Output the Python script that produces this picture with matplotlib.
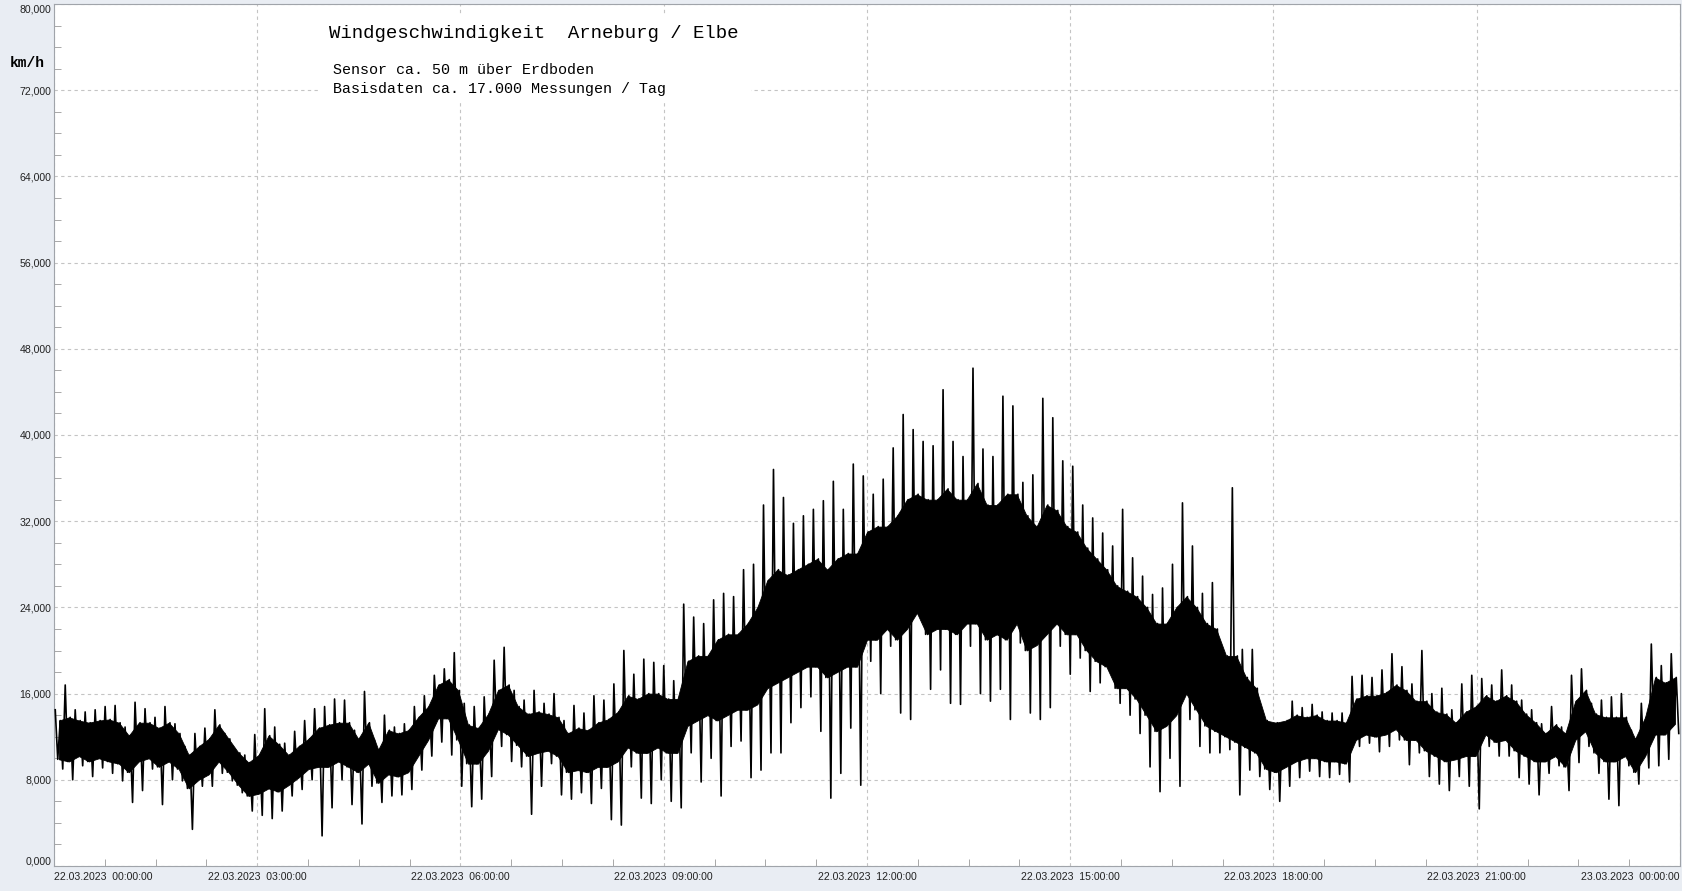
import numpy as np
import matplotlib.pyplot as plt
from matplotlib.patches import Rectangle
from matplotlib.ticker import MultipleLocator

# wind speed km/h in ~9 min bins
# hi / lo: ends of the longest strokes, ct / cb: top and bottom of the solid black core
hi = [14.5, 16.8, 14.5, 14.3, 14.5, 14.8, 14.9, 12.9, 15.2, 14.6, 13.8, 14.8, 13.2, 11.1, 12.3, 12.8, 14.5,
      12.3, 10.8, 10.3, 12.2, 14.6, 12.9, 11.4, 12.5, 13.5, 14.6, 14.8, 15.5, 15.4, 12.6, 16.2, 11.7,
      14.0, 12.9, 13.2, 14.8, 15.8, 17.7, 18.3, 19.8, 15.1, 14.8, 15.7, 19.1, 20.3, 16.3, 15.4, 16.3, 15.1,
      16.0, 13.5, 14.9, 14.2, 15.8, 15.4, 16.9, 20.0, 17.8, 19.2, 18.9, 18.6, 17.2, 24.3, 23.1, 22.5,
      24.7, 25.3, 25.0, 27.5, 28.0, 33.5, 36.8, 34.2, 31.8, 32.5, 33.1, 33.9, 35.7, 33.1, 37.3, 36.2,
      34.5, 35.9, 38.8, 41.9, 40.5, 39.4, 39.0, 44.2, 39.4, 38.0, 46.2, 38.7, 38.0, 43.6, 42.7, 35.6,
      36.3, 43.4, 41.6, 37.6, 37.1, 33.5, 32.3, 30.9, 29.7, 33.1, 28.6, 26.9, 25.2, 25.8, 28.0, 33.7,
      29.7, 25.3, 26.3, 19.4, 35.1, 20.1, 20.1, 13.1, 12.8, 13.3, 15.3, 14.7, 15.0, 14.3, 14.2, 14.2, 17.6,
      17.7, 17.5, 18.2, 19.7, 18.5, 16.9, 20.0, 16.0, 16.5, 14.5, 16.9, 17.7, 17.4, 16.8, 18.2, 16.8,
      15.4, 14.5, 13.2, 14.8, 12.9, 17.7, 18.3, 15.1, 15.4, 15.7, 16.0, 12.6, 15.1, 20.6, 18.6, 19.7]
lo = [9.0, 8.0, 9.3, 8.3, 9.1, 8.6, 7.9, 5.9, 7.0, 9.0, 5.7, 8.0, 7.9, 3.4, 7.4, 7.4, 8.6,
      7.9, 6.8, 5.1, 4.7, 4.4, 5.1, 6.5, 7.1, 8.0, 2.8, 5.4, 8.0, 5.7, 3.9, 7.4, 5.9,
      6.5, 6.6, 7.1, 8.9, 10.2, 11.5, 10.3, 7.4, 5.5, 6.2, 8.3, 11.1, 9.7, 9.2, 4.8, 7.4, 9.5,
      6.6, 6.2, 6.8, 5.8, 7.2, 4.3, 3.8, 9.2, 6.3, 5.8, 8.0, 6.0, 5.4, 10.5, 7.8, 10.0,
      6.5, 11.1, 11.6, 8.2, 8.9, 10.5, 10.5, 13.3, 14.7, 15.7, 12.5, 6.3, 8.6, 12.8, 7.5, 19.0,
      16.0, 20.4, 14.2, 13.6, 23.8, 16.4, 18.2, 15.1, 15.0, 20.4, 16.0, 15.3, 16.4, 13.6, 20.7, 14.2,
      13.6, 14.7, 20.4, 17.8, 19.3, 16.2, 17.0, 18.5, 15.1, 14.0, 12.3, 9.2, 6.9, 10.0, 7.4, 13.6,
      11.1, 10.5, 10.5, 10.8, 6.6, 8.9, 8.3, 7.1, 6.0, 7.4, 8.2, 8.8, 8.3, 8.2, 8.5, 7.8, 11.1,
      11.4, 10.6, 11.1, 11.7, 9.4, 10.5, 8.3, 7.6, 7.0, 8.3, 7.4, 5.3, 11.1, 10.2, 10.2, 8.2,
      7.6, 6.6, 8.6, 9.3, 7.0, 9.6, 11.1, 8.6, 6.2, 5.6, 9.3, 7.6, 9.1, 9.3, 9.9, 12.3]
ct = [13.5, 13.8, 13.5, 13.3, 13.5, 13.6, 13.3, 12.1, 13.3, 13.3, 12.8, 13.3, 12.3, 10.3, 11.1, 11.8, 13.1,
      11.8, 10.5, 9.6, 10.3, 12.1, 11.3, 10.3, 11.1, 11.8, 12.8, 13.1, 13.3, 13.3, 11.8, 13.3, 10.8,
      12.6, 12.3, 12.6, 13.8, 14.8, 16.8, 17.3, 16.3, 13.1, 12.8, 14.1, 16.3, 16.8, 14.8, 14.1, 14.3, 14.1,
      13.8, 12.3, 12.8, 12.6, 13.3, 13.6, 14.3, 15.8, 15.5, 16.0, 16.0, 15.5, 15.5, 19.0, 19.5, 19.5,
      21.0, 21.5, 21.5, 22.5, 24.0, 26.5, 27.5, 27.0, 27.5, 28.0, 28.5, 27.5, 28.5, 29.0, 29.0, 31.0,
      31.5, 31.5, 32.5, 34.0, 34.5, 34.0, 34.0, 35.0, 34.0, 34.0, 35.5, 33.5, 33.5, 34.5, 34.5, 32.5,
      31.5, 33.5, 33.0, 31.5, 31.0, 29.5, 28.5, 27.5, 26.0, 25.5, 25.0, 24.0, 22.5, 22.5, 24.0, 25.0,
      24.0, 22.5, 22.0, 19.5, 19.5, 17.5, 16.5, 13.5, 13.3, 13.5, 14.0, 13.8, 14.0, 13.5, 13.5, 13.3, 15.5,
      15.8, 15.8, 16.1, 16.8, 16.3, 15.3, 15.3, 14.3, 14.1, 13.3, 14.3, 14.8, 15.8, 15.3, 15.8, 15.3,
      14.1, 13.3, 12.3, 13.1, 12.3, 15.3, 16.3, 14.1, 13.8, 13.8, 13.8, 11.8, 13.8, 17.5, 17.0, 17.5]
cb = [9.9, 9.7, 10.2, 9.7, 10.0, 9.7, 9.5, 8.7, 9.7, 10.0, 9.2, 9.7, 9.0, 7.2, 8.0, 8.5, 9.7,
      8.7, 7.5, 6.5, 6.7, 7.2, 6.9, 7.5, 8.2, 9.0, 9.2, 9.2, 9.7, 9.2, 8.7, 9.5, 7.7,
      8.5, 8.3, 8.7, 10.2, 11.7, 13.7, 13.7, 11.7, 9.5, 9.5, 10.7, 12.7, 12.2, 11.2, 10.2, 10.5, 10.7,
      10.2, 8.7, 8.9, 8.7, 9.2, 9.2, 9.7, 11.0, 10.5, 10.5, 11.0, 10.5, 10.5, 13.0, 13.5, 14.0,
      13.5, 14.0, 14.5, 14.5, 15.0, 16.5, 17.0, 17.5, 18.0, 18.5, 18.5, 17.5, 18.0, 18.5, 18.5, 21.0,
      21.0, 22.0, 21.0, 22.0, 23.5, 21.5, 22.0, 22.0, 21.5, 22.5, 22.5, 21.0, 21.5, 21.0, 22.5, 20.0,
      20.5, 21.5, 22.5, 21.5, 21.5, 20.0, 19.0, 18.5, 16.5, 16.5, 15.5, 14.0, 12.5, 13.0, 14.0, 16.0,
      14.5, 13.0, 12.5, 12.0, 11.5, 11.0, 10.5, 9.0, 8.7, 9.2, 9.7, 10.0, 10.0, 9.7, 9.7, 9.5, 11.7,
      12.2, 12.0, 12.2, 12.7, 11.7, 11.7, 10.7, 10.2, 9.7, 9.9, 10.2, 10.2, 12.2, 11.5, 11.7, 10.7,
      10.2, 9.7, 9.7, 10.2, 9.2, 11.7, 12.5, 10.5, 9.7, 9.7, 10.2, 8.7, 10.2, 12.2, 12.2, 13.2]

tick_hours = [0, 3, 6, 9, 12, 15, 18, 21, 24]
tick_labels = ['22.03.2023  00:00:00', '22.03.2023  03:00:00', '22.03.2023  06:00:00',
               '22.03.2023  09:00:00', '22.03.2023  12:00:00', '22.03.2023  15:00:00',
               '22.03.2023  18:00:00', '22.03.2023  21:00:00', '23.03.2023  00:00:00']
y_ticks = [0, 8, 16, 24, 32, 40, 48, 56, 64, 72, 80]

title = 'Windgeschwindigkeit  Arneburg / Elbe'
sub1 = 'Sensor ca. 50 m über Erdboden'
sub2 = 'Basisdaten ca. 17.000 Messungen / Tag'

W, H = 1683, 891
fig = plt.figure(figsize=(W / 100, H / 100), dpi=100, facecolor='#e9edf3')
ax = fig.add_axes([54 / W, 25 / H, 1626 / W, 862 / H])
ax.set_facecolor('white')

nb = len(hi)
tb = (np.arange(nb) + 0.5) / nb * 24
ax.fill_between(tb, cb, ct, color='black', lw=0.6, edgecolor='black', zorder=3)

# strokes: hi -> core bottom -> core top -> lo, in every bin
vals = np.column_stack([hi, cb, ct, lo]).ravel()
n = len(vals)
t = (np.arange(n) + 0.5) / n * 24
ax.plot(t, vals, color='black', lw=1.2, zorder=3)

ax.set_xlim(0, 24)
ax.set_ylim(0, 80)
ax.set_xticks(tick_hours, tick_labels)
ax.set_yticks(y_ticks, [f'{v:.3f}'.replace('.', ',') for v in y_ticks])
ax.xaxis.set_minor_locator(MultipleLocator(0.75))
ax.yaxis.set_minor_locator(MultipleLocator(2))
ax.tick_params(which='both', direction='in', color='#9a9a9a', labelsize=7.6,
               labelcolor='#222222', labelfontfamily='Liberation Sans')
ax.tick_params(which='major', length=0)
ax.tick_params(which='minor', length=5)
ax.tick_params(axis='y', pad=2)
ax.tick_params(axis='x', pad=4)
xl = ax.get_xticklabels()
xl[0].set_ha('left')
xl[-1].set_ha('right')
yl = ax.get_yticklabels()
yl[0].set_va('bottom')
yl[-1].set_va('top')

ax.grid(True, which='major', color='#c4c4c4', linestyle=(0, (3, 3)), lw=0.8)
for s in ax.spines.values():
    s.set_color('#a0a4aa')

# white label box over the grid
fig.patches.append(Rectangle((320 / W, 1 - 100 / H), 431 / W, 86 / H, transform=fig.transFigure,
                             facecolor='white', edgecolor='none', zorder=1))

fig.text(329 / W, 1 - 33 / H, title, family='Liberation Mono', fontsize=13.7, va='center')
fig.text(333 / W, 1 - 70 / H, sub1, family='Liberation Mono', fontsize=10.8, va='center')
fig.text(333 / W, 1 - 89 / H, sub2, family='Liberation Mono', fontsize=10.8, va='center')
fig.text(10 / W, 1 - 63 / H, 'km/h', family='Liberation Mono', weight='bold', fontsize=10.5, va='center')

fig.savefig('out.png', dpi=100, facecolor=fig.get_facecolor())
